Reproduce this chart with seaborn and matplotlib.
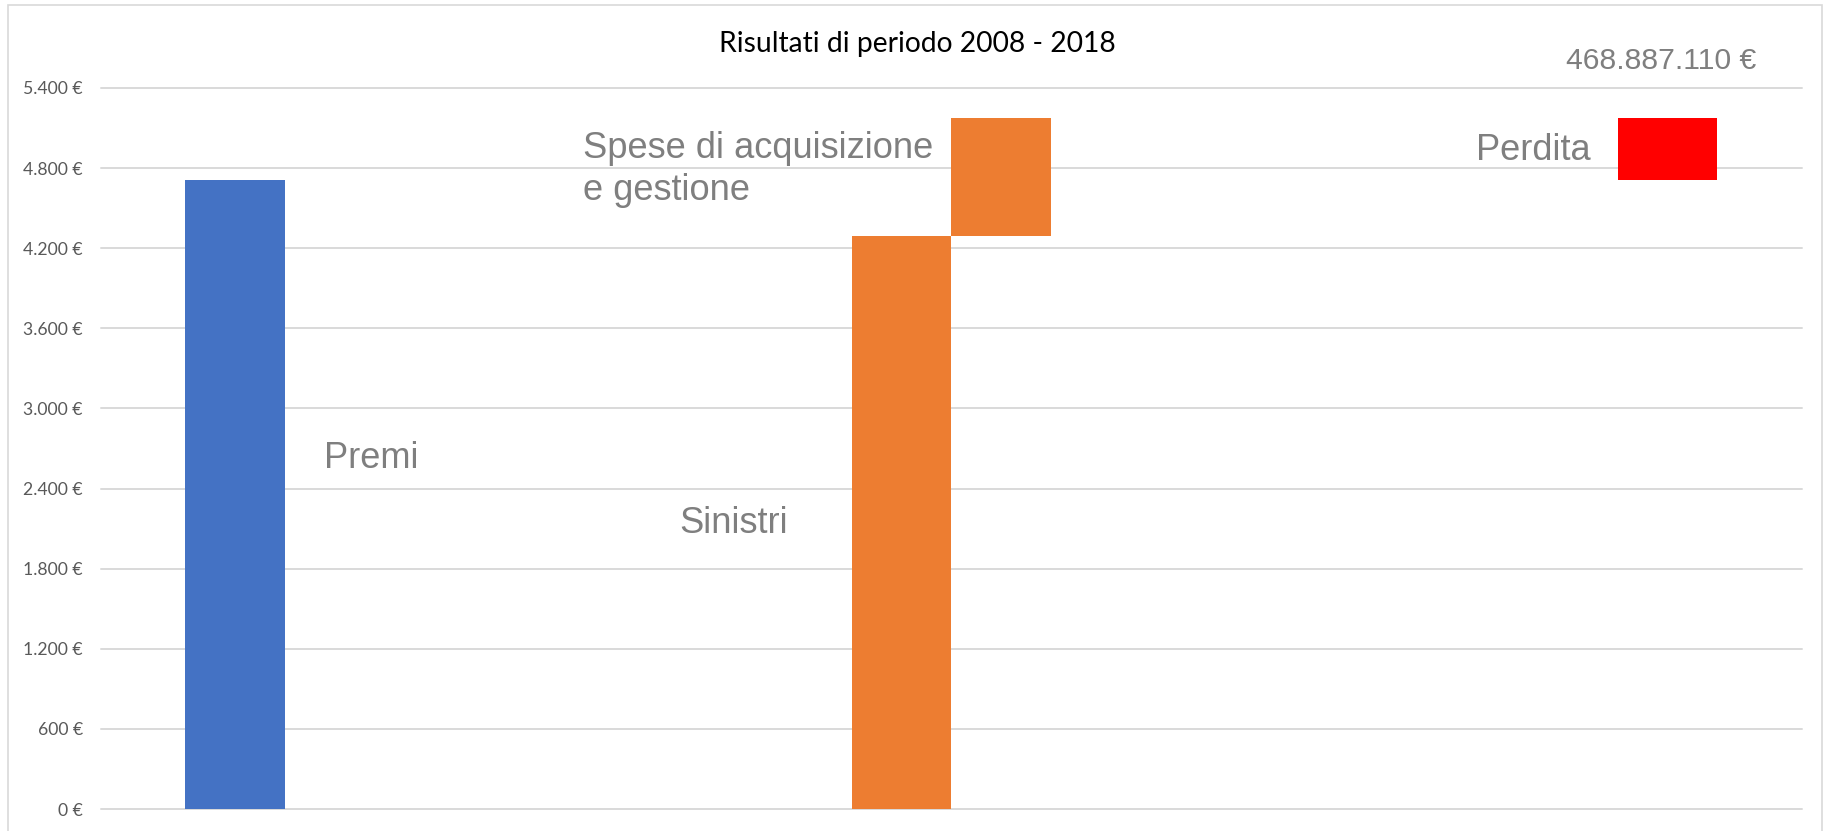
import matplotlib
matplotlib.use("Agg")
import matplotlib.pyplot as plt
from matplotlib.patches import Rectangle
from matplotlib.ticker import MultipleLocator, FuncFormatter
import seaborn as sns

# ---- data (milioni di euro) ----
gruppi = ["Ricavi", "Costi", "Risultato"]
serie = ["Premi", "Sinistri", "Spese di acquisizione\ne gestione", "Perdita"]
gruppo_serie = ["Ricavi", "Costi", "Costi", "Risultato"]
valori = [4710, 4290, 889, 469]
perdita_label = "468.887.110 €"
titolo = "Risultati di periodo 2008 - 2018"
colori = ["#4472C4", "#ED7D31", "#ED7D31", "#FF0000"]

# bases of the floating (waterfall) bars
basi = [0, 0, valori[1], valori[0]]

sns.set_style("white")
plt.rcParams["font.family"] = ["Liberation Sans", "DejaVu Sans"]

W, H = 1827, 831
fig = plt.figure(figsize=(W / 100, H / 100), dpi=100)
ax = fig.add_axes([101 / W, 1 - 809 / H, (1801.5 - 101) / W, (809 - 88) / H])

palette = dict(zip(serie, colori))
for s, g, v, b in zip(serie, gruppo_serie, valori, basi):
    sns.barplot(x=[g], y=[v], hue=[s], order=gruppi, hue_order=serie,
                palette=palette, width=0.702, dodge=True, bottom=b,
                errorbar=None, legend=False, saturation=1, linewidth=0,
                ax=ax)

ax.set_xlim(-0.5, 2.5)
ax.set_ylim(0, 5400)
ax.yaxis.set_major_locator(MultipleLocator(600))
ax.yaxis.set_major_formatter(
    FuncFormatter(lambda v, p: f"{int(round(v)):,}".replace(",", ".") + " €"))
ax.set_xticks([])
ax.set_xlabel("")
ax.set_ylabel("")
for sp in ax.spines.values():
    sp.set_visible(False)
ax.grid(axis="y", color="#d9d9d9", linewidth=1.4)
ax.set_axisbelow(True)
for gl in ax.get_ygridlines():
    gl.set_clip_on(False)
ax.tick_params(axis="y", length=0, pad=13, labelcolor="#595959")

tick_font = "Lato"
renderer = fig.canvas.get_renderer()
tmp = fig.text(0, 0, "5.400 €", fontsize=14, family=tick_font)
w = tmp.get_window_extent(renderer).width
tmp.remove()
tick_size = 14 * 60 / w
for lab in ax.get_yticklabels():
    lab.set_fontfamily(tick_font)
    lab.set_fontsize(tick_size)

# title
t = fig.text(917.5 / W, 1 - 52 / H, titolo, ha="center", va="baseline",
             family="Lato", fontsize=20, color="black")
t.set_fontsize(20 * 397 / t.get_window_extent(renderer).width)

# series labels (data coordinates: x in category units, y in milioni)
lab_color = "#7f7f7f"
px = lambda p: -0.5 + (p - 101) / 566.8
py = lambda p: (809 - p) / (721 / 5400)

probe = ax.text(0, 0, "Spese di acquisizione", fontsize=26)
lab_size = 26 * 349 / probe.get_window_extent(renderer).width
probe.remove()

ax.text(px(324), py(468), serie[0], fontsize=lab_size, color=lab_color, va="baseline")
ax.text(px(679), py(533), serie[1], fontsize=lab_size, color=lab_color, va="baseline")
righe = serie[2].split("\n")
ax.text(px(583), py(158), righe[0], fontsize=lab_size, color=lab_color, va="baseline")
ax.text(px(583), py(200), righe[1], fontsize=lab_size, color=lab_color, va="baseline")
ax.text(px(1476), py(160), serie[3], fontsize=lab_size, color=lab_color, va="baseline")

vt = ax.text(px(1756), py(69), perdita_label, fontsize=21, color=lab_color,
             va="baseline", ha="right", clip_on=False)
vt.set_fontsize(21 * 190 / vt.get_window_extent(renderer).width)

# chart border
fig.patches.append(Rectangle((8 / W, -0.02), (1822 - 8) / W, 1.02 - 5 / H,
                             transform=fig.transFigure, fill=False,
                             edgecolor="#d9d9d9", linewidth=1.2))

fig.savefig("out.png", dpi=100, facecolor="white")
